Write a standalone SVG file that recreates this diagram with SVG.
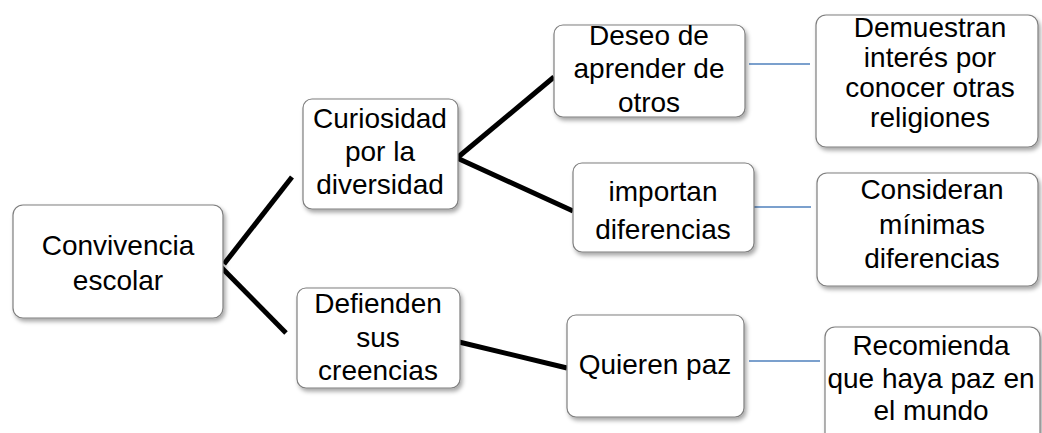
<svg xmlns="http://www.w3.org/2000/svg" width="1042" height="433" viewBox="0 0 1042 433">
<defs>
<filter id="sh" x="-10%" y="-10%" width="130%" height="140%">
<feDropShadow dx="2" dy="3" stdDeviation="2" flood-color="#000" flood-opacity="0.35"/>
</filter>
<style>
.box{fill:#fff;stroke:#7f7f7f;stroke-width:1.2;filter:url(#sh)}
.t{font-family:"Liberation Sans",Arial,sans-serif;font-size:28px;fill:#000;text-anchor:middle}
.k{stroke:#000;stroke-width:5;fill:none}
.b{stroke:#4f81bd;stroke-width:1.6;fill:none}
</style>
</defs>
<rect width="1042" height="433" fill="#fff"/>
<g id="connectors">
<line class="k" x1="224" y1="264" x2="292" y2="177"/>
<line class="k" x1="219" y1="265" x2="286" y2="333"/>
<line class="k" x1="457" y1="158" x2="554" y2="77"/>
<line class="k" x1="457" y1="158" x2="573" y2="211"/>
<line class="k" x1="459" y1="342" x2="567" y2="368"/>
<line class="b" x1="749" y1="64" x2="810" y2="64"/>
<line class="b" x1="749" y1="207" x2="811" y2="207"/>
<line class="b" x1="749" y1="361" x2="820" y2="361"/>
</g>
<g id="n-convivencia">
<rect class="box" x="13" y="205" width="210" height="113" rx="10"/>
<text class="t" x="118" y="255">Convivencia</text>
<text class="t" x="118" y="290">escolar</text>
</g>
<g id="n-curiosidad">
<rect class="box" x="303" y="99" width="155" height="110" rx="9"/>
<text class="t" x="380" y="128">Curiosidad</text>
<text class="t" x="380" y="161">por la</text>
<text class="t" x="380" y="194">diversidad</text>
</g>
<g id="n-defienden">
<rect class="box" x="297" y="288" width="163" height="100" rx="9"/>
<text class="t" x="378" y="313">Defienden</text>
<text class="t" x="378" y="347">sus</text>
<text class="t" x="378" y="380">creencias</text>
</g>
<g id="n-deseo">
<rect class="box" x="554" y="25" width="191" height="92" rx="9"/>
<text class="t" x="649" y="45">Deseo de</text>
<text class="t" x="649" y="78">aprender de</text>
<text class="t" x="649" y="112">otros</text>
</g>
<g id="n-importan">
<rect class="box" x="573" y="163" width="181" height="89" rx="9"/>
<text class="t" x="663" y="201">importan</text>
<text class="t" x="663" y="239">diferencias</text>
</g>
<g id="n-quieren">
<rect class="box" x="567" y="315" width="177" height="102" rx="9"/>
<text class="t" x="655" y="374">Quieren paz</text>
</g>
<g id="n-demuestran">
<rect class="box" x="816" y="15" width="222" height="132" rx="10"/>
<text class="t" x="930" y="37">Demuestran</text>
<text class="t" x="930" y="67">interés por</text>
<text class="t" x="930" y="97">conocer otras</text>
<text class="t" x="930" y="127">religiones</text>
</g>
<g id="n-consideran">
<rect class="box" x="817" y="173" width="221" height="113" rx="10"/>
<text class="t" x="932" y="199">Consideran</text>
<text class="t" x="932" y="234">mínimas</text>
<text class="t" x="932" y="268">diferencias</text>
</g>
<g id="n-recomienda">
<rect class="box" x="825" y="327" width="215" height="120" rx="10"/>
<text class="t" x="931" y="355">Recomienda</text>
<text class="t" x="931" y="388">que haya paz en</text>
<text class="t" x="931" y="420">el mundo</text>
</g>
</svg>
